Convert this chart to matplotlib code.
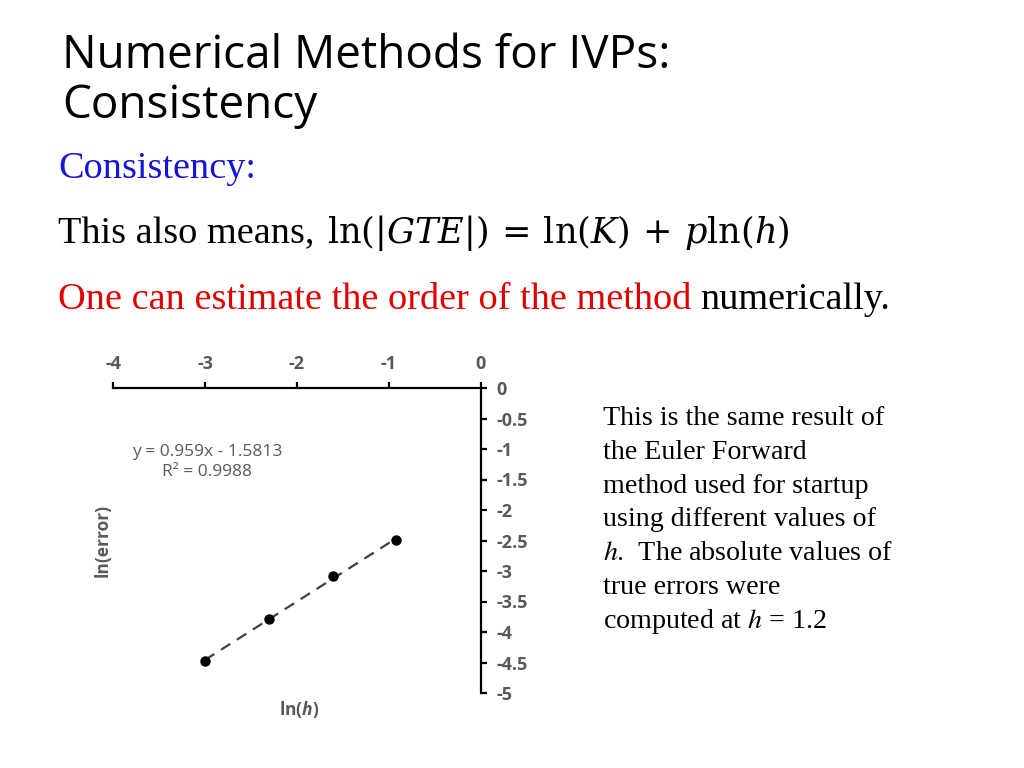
import numpy as np
import matplotlib
matplotlib.use("Agg")
import matplotlib.pyplot as plt

# data: ln(h) vs ln(|true error|)
ln_h = [-3.00, -2.30, -1.61, -0.92]
ln_err = [-4.47, -3.79, -3.08, -2.49]
slope = 0.959
intercept = -1.5813
r2 = 0.9988

xticks = [-4, -3, -2, -1, 0]
yticks = [0, -0.5, -1, -1.5, -2, -2.5, -3, -3.5, -4, -4.5, -5]

title_lines = ["Numerical Methods for IVPs:", "Consistency"]
note_lines = ["This is the same result of", "the Euler Forward",
              "method used for startup", "using different values of",
              r"$h$.  The absolute values of", "true errors were",
              r"computed at $h$ = 1.2"]

gray = "#595959"
plt.rcParams["mathtext.fontset"] = "stix"
plt.rcParams["mathtext.bfit"] = "Open Sans:italic:bold"

W, H = 1024, 768
fig = plt.figure(figsize=(10.24, 7.68), dpi=100)


def px(x, y):
    return x / W, 1 - y / H


# slide title
for i, line in enumerate(title_lines):
    fig.text(*px(62, 68 + 50 * i), line, family="Open Sans", fontsize=33,
             va="baseline", ha="left", color="black")

# body text
fig.text(*px(58, 178), "Consistency:", family="Liberation Serif",
         fontsize=27.5, color="#1414d2", va="baseline")
fig.text(*px(58, 243), "This also means,", family="Liberation Serif",
         fontsize=27.5, color="black", va="baseline")
fig.text(*px(327, 243), r"$\mathrm{ln}(|GTE|)\,=\,\mathrm{ln}(K)\,+\,p\mathrm{ln}(h)$",
         math_fontfamily="dejavuserif", fontsize=25.3, color="black", va="baseline")
red = fig.text(*px(58, 309), "One can estimate the order of the method",
               family="Liberation Serif", fontsize=27.5, color="#e00000",
               va="baseline")
fig.canvas.draw()
bb = red.get_window_extent()
fig.text(bb.x1 / W + 9 / W, 1 - 309 / H, "numerically.", family="Liberation Serif",
         fontsize=27.5, color="black", va="baseline")

for i, line in enumerate(note_lines):
    fig.text(*px(603, 425 + 33.8 * i), line, family="Liberation Serif",
             math_fontfamily="stix", fontsize=20.2, va="baseline", ha="left")

# chart
ax = fig.add_axes([113 / W, 1 - 693 / H, 368 / W, 305 / H])
ax.set_xlim(-4, 0)
ax.set_ylim(-5, 0)
for s in ["left", "bottom"]:
    ax.spines[s].set_visible(False)
for s in ["top", "right"]:
    ax.spines[s].set_linewidth(1.6)
ax.xaxis.tick_top()
ax.yaxis.tick_right()
ax.set_xticks(xticks)
ax.set_yticks(yticks)
ax.set_xticklabels([f"{v:g}" for v in xticks])
ax.set_yticklabels([f"{v:g}" for v in yticks])
ax.tick_params(direction="out", length=4, width=1.6, colors="black",
               labelcolor=gray, labelsize=13, pad=7)
for lab in ax.get_xticklabels() + ax.get_yticklabels():
    lab.set_family("Open Sans")
    lab.set_fontweight("bold")

xfit = np.array([ln_h[0], ln_h[-1]])
ax.plot(xfit, slope * xfit + intercept, ls=(0, (5, 3.5)), color="#404040", lw=1.6)
ax.plot(ln_h, ln_err, "o", color="black", ms=6.5)

ax.text(-2.98, -1.21, f"y = {slope}x - {abs(intercept)}\nR² = {r2}",
        family="Open Sans", fontsize=12.5, color=gray, ha="center", va="center",
        linespacing=1.3)

fig.text(*px(103, 540), "ln(error)", rotation=90, family="Open Sans",
         fontweight="bold", fontsize=12.5, color=gray, ha="center", va="center")
fig.text(*px(299, 710), r"ln($\mathbfit{h}$)", family="Open Sans",
         math_fontfamily="custom", fontweight="bold", fontsize=12.5, color=gray,
         ha="center", va="center")

fig.savefig("out.png", dpi=100)
